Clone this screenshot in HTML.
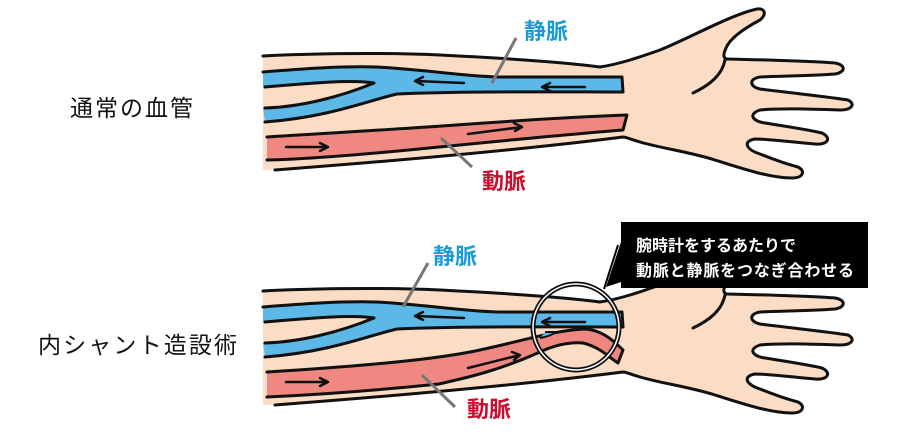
<!DOCTYPE html>
<html><head><meta charset="utf-8"><style>
html,body{margin:0;padding:0;background:#fff;}
svg{display:block;}
text{font-family:"Liberation Sans","Noto Sans CJK JP",sans-serif;}
</style></head><body>
<svg width="900" height="437" viewBox="0 0 900 437" xmlns="http://www.w3.org/2000/svg">
<defs>
<g id="arm">
  <path d="M263,56 C300,54 376,52 440,55 C520,59 570,63 600,67 C620,64 640,57 660,50 C690,38 730,15 757,9 C765,8 767,14 760,20 C745,28 730,38 726,48 C723,55 723,58 727,59 C770,60 810,61 835,63 C846,65 846,72 835,74 C810,76 780,76 760,77 C748,79 750,87 760,89 C800,94 830,97 848,100 C856,104 852,110 840,110 C810,109 780,108 760,110 C748,114 752,121 765,123 C790,127 810,130 822,133 C832,138 828,145 815,144 C790,142 770,139 755,139 C743,141 745,149 760,154 C775,160 790,165 798,167 C806,171 803,178 792,178 C770,178 740,168 715,160 C690,152 660,148 640,142 C630,139 626,137 623,137 C520,150 380,162 275,170 L263,170 Z" fill="#fbdcc5"/>
  <path d="M263,56 C300,54 376,52 440,55 C520,59 570,63 600,67 C620,64 640,57 660,50 C690,38 730,15 757,9 C765,8 767,14 760,20 C745,28 730,38 726,48 C723,55 723,58 727,59 C770,60 810,61 835,63 C846,65 846,72 835,74 C810,76 780,76 760,77 C748,79 750,87 760,89 C800,94 830,97 848,100 C856,104 852,110 840,110 C810,109 780,108 760,110 C748,114 752,121 765,123 C790,127 810,130 822,133 C832,138 828,145 815,144 C790,142 770,139 755,139 C743,141 745,149 760,154 C775,160 790,165 798,167 C806,171 803,178 792,178 C770,178 740,168 715,160 C690,152 660,148 640,142 C630,139 626,137 623,137 C520,150 380,162 275,170" fill="none" stroke="#111" stroke-width="3" stroke-linejoin="round" stroke-linecap="round"/>
  <path d="M725,60 C722,75 710,85 693,93" fill="none" stroke="#111" stroke-width="3" stroke-linecap="round"/>
  <!-- vein -->
  <path d="M263,72 C300,69 340,66 376,67 C430,70 470,77 502,77 C560,77 600,77 622,77 L623,92 C560,92 460,91 397,94 C370,100 330,117 265,122 L263,108 C300,107 340,97 374,83 C350,79 300,84 263,87 Z" fill="#5cb8e7"/>
  <g fill="none" stroke="#111" stroke-width="3" stroke-linecap="round" stroke-linejoin="round">
    <path d="M263,72 C300,69 340,66 376,67 C430,70 470,77 502,77 C560,77 600,77 622,77 L623,92 C560,92 460,91 397,94 C370,100 330,117 265,122"/>
    <path d="M265,108 C300,107 340,97 374,83 C350,79 300,84 265,87"/>
  </g>
  <g fill="none" stroke="#111" stroke-width="2.5" stroke-linecap="round" stroke-linejoin="round">
    <path d="M464,83 L416,81 M423,77 L415,81 L423,85"/>
    <path d="M585,87 L543,87 M550,83 L542,87 L550,91"/>
  </g>
</g>
</defs>

<!-- top arm -->
<use href="#arm"/>
<path d="M267,137 C330,133 418,128 470,124 C540,119 600,116 627,115 L623,130 C560,135 480,143 439,147 C370,154 310,159 267,160 Z" fill="#ef8880"/>
<g fill="none" stroke="#111" stroke-width="3" stroke-linecap="round" stroke-linejoin="round">
  <path d="M267,137 C330,133 418,128 470,124 C540,119 600,116 627,115 L623,130 C560,135 480,143 439,147 C370,154 310,159 267,160"/>
</g>
<g fill="none" stroke="#111" stroke-width="2.5" stroke-linecap="round" stroke-linejoin="round">
  <path d="M286,147 L327,147 M320,143 L328,147 L320,151"/>
  <path d="M468,134 L522,127 M514,123 L522,127 L515,131"/>
</g>
<line x1="516" y1="38" x2="492" y2="83" stroke="#777" stroke-width="3"/>
<line x1="441" y1="138" x2="472" y2="167" stroke="#777" stroke-width="3"/>
<text x="524" y="39" font-size="22" font-weight="bold" fill="#1a9ad8">静脈</text>
<text x="482" y="189" font-size="22" font-weight="bold" fill="#c8102e">動脈</text>
<text x="70" y="116" font-size="23" fill="#111" textLength="123">通常の血管</text>

<!-- bottom arm -->
<g transform="translate(0,235)">
<use href="#arm"/>
<path d="M267,137 C330,133 418,127 470,117 C520,107 550,96 583,94 C600,94 612,104 623,115 L618,128 C610,123 600,112 583,108 C570,107 555,110 540,117 C500,135 470,142 439,149 C370,156 310,160 267,162 Z" fill="#ef8880"/>
<path d="M267,137 C330,133 418,127 470,117 C520,107 550,96 583,94 C600,94 612,104 623,115 L618,128 C610,123 600,112 583,108 C570,107 555,110 540,117 C500,135 470,142 439,149 C370,156 310,160 267,162" fill="none" stroke="#111" stroke-width="3" stroke-linecap="round" stroke-linejoin="round"/>
<path d="M545,97 L556,97 C552,100 546,102 540,103" fill="#5cb8e7" stroke="#111" stroke-width="2"/>
<g fill="none" stroke="#111" stroke-width="2.5" stroke-linecap="round" stroke-linejoin="round">
  <path d="M286,147 L327,147 M320,143 L328,147 L320,151"/>
  <path d="M468,133 L520,120 M512,117 L520,120 L514,125"/>
</g>
</g>
<circle cx="576" cy="327" r="43" fill="none" stroke="#111" stroke-width="5"/>
<circle cx="576" cy="327" r="43" fill="none" stroke="#fff" stroke-width="1.5"/>
<line x1="428" y1="263" x2="403" y2="307" stroke="#777" stroke-width="3"/>
<line x1="422" y1="375" x2="455" y2="407" stroke="#777" stroke-width="3"/>
<text x="433" y="264" font-size="22" font-weight="bold" fill="#1a9ad8">静脈</text>
<text x="467" y="417" font-size="22" font-weight="bold" fill="#c8102e">動脈</text>
<text x="38" y="353" font-size="23" fill="#111" textLength="199">内シャント造設術</text>

<!-- callout -->
<path d="M621,242 L606,287 L621,282 Z" fill="#000"/>
<line x1="618" y1="245" x2="604" y2="289" stroke="#000" stroke-width="2"/>
<rect x="621" y="222" width="247" height="66" fill="#000"/>
<text x="636" y="251" font-size="16" fill="#fff" font-weight="bold">腕時計をするあたりで</text>
<text x="636" y="276" font-size="16" fill="#fff" font-weight="bold" textLength="218">動脈と静脈をつなぎ合わせる</text>
</svg>
</body></html>
